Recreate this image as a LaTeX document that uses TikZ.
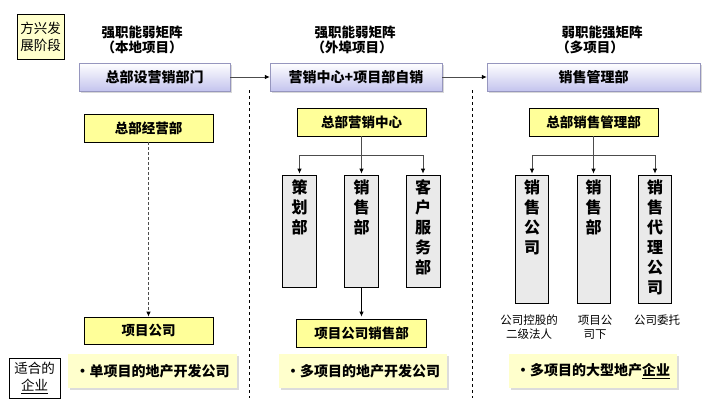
\documentclass[tikz,border=0pt]{standalone}
\usepackage{fontspec}
\setmainfont{Noto Sans CJK SC}
\usetikzlibrary{arrows.meta,shadows}
\definecolor{ylw}{RGB}{255,255,153}
\definecolor{pale}{RGB}{255,255,204}
\definecolor{lav}{RGB}{196,196,238}
\definecolor{gbox}{RGB}{234,234,234}
\tikzset{
  bluebox/.style={draw={rgb,255:red,150;green,150;blue,190}, top color=white, bottom color=lav,
    drop shadow={shadow xshift=2pt,shadow yshift=-2pt,fill=gray!60},
    minimum height=28pt, inner sep=0pt, font=\bfseries\fontsize{14}{16}\selectfont},
  ybox/.style={draw=black, line width=0.8pt, fill=ylw, minimum height=28pt, minimum width=129pt,
    inner sep=0pt, font=\bfseries\fontsize{13.5}{16}\selectfont},
  gboxst/.style={draw=black, line width=0.7pt, fill=gbox, inner sep=0pt},
  vtext/.style={font=\bfseries\fontsize{16}{20}\selectfont, align=center, inner sep=0pt},
  notebox/.style={fill=pale, drop shadow={shadow xshift=2pt,shadow yshift=-2pt,fill=gray!55},
    minimum width=168pt, minimum height=34pt, inner sep=0pt, font=\bfseries\fontsize{14}{16}\selectfont},
  sidebox/.style={draw=black, line width=0.7pt, inner sep=0pt, align=center,
    font=\fontsize{13.5}{17}\selectfont},
  head/.style={font=\bfseries\fontsize{13.5}{16}\selectfont, inner sep=0pt},
  small/.style={font=\fontsize{11.5}{13.5}\selectfont, align=center, inner sep=0pt},
  arr/.style={draw=gray!60!black, line width=0.8pt, -{Latex[length=5pt,width=4.5pt,color=black]}},
  darr/.style={arr, dash pattern=on 3pt off 2pt},
  branch/.style={draw=gray!60!black, line width=0.8pt},
  sep/.style={draw=black, line width=0.7pt, dash pattern=on 3pt off 3pt}
}
\begin{document}
\begin{tikzpicture}[x=1pt,y=-1pt]
\useasboundingbox (0,0) rectangle (707,405);
% side labels
\node[sidebox, fill=pale, minimum width=47pt, minimum height=45pt] (stage) at (40.5,36.5) {方兴发\\展阶段};
\node[sidebox, fill=white, minimum width=51pt, minimum height=40pt] (fit) at (34.5,378) {适合的\\\underline{企业}};
% headings
\node[head] (h1a) at (142,32) {强职能弱矩阵};
\node[head] (h1b) at (142,47) {（本地项目）};
\node[head] (h2a) at (355,32) {强职能弱矩阵};
\node[head] (h2b) at (352,47) {（外埠项目）};
\node[head] (h3a) at (602,32) {弱职能强矩阵};
\node[head] (h3b) at (590,47) {（多项目）};
% top blue boxes
\node[bluebox, minimum width=151pt] (b1) at (154.5,77) {总部设营销部门};
\node[bluebox, minimum width=172pt] (b2) at (356,77) {营销中心+项目部自销};
\node[bluebox, minimum width=213pt] (b3) at (593.5,77) {销售管理部};
\draw[arr] (b1) -- (b2);
\draw[arr] (b2) -- (b3);
% separators
\coordinate (s1t) at (249,90); \coordinate (s1b) at (249,398);
\coordinate (s2t) at (472,90); \coordinate (s2b) at (472,398);
\draw[sep] (s1t) -- (s1b);
\draw[sep] (s2t) -- (s2b);
% column 1
\node[ybox] (y1) at (148.5,128) {总部经营部};
\node[ybox, minimum height=27pt] (p1) at (148.5,330.5) {项目公司};
\draw[darr] (y1) -- (p1);
% column 2
\node[ybox] (y2) at (361.5,122) {总部营销中心};
\node[gboxst, minimum width=34pt, minimum height=112pt] (g21) at (299.5,231) {};
\node[gboxst, minimum width=34pt, minimum height=112pt] (g22) at (361.5,231) {};
\node[gboxst, minimum width=34pt, minimum height=112pt] (g23) at (423,231) {};
\node[vtext, anchor=north] (t21) at ([yshift=-5pt]g21.north) {策\\划\\部};
\node[vtext, anchor=north] (t22) at ([yshift=-5pt]g22.north) {销\\售\\部};
\node[vtext, anchor=north] (t23) at ([yshift=-5pt]g23.north) {客\\户\\服\\务\\部};
\coordinate (j2) at (361.5,155);
\draw[branch] (y2.south) -- (j2);
\draw[arr, shorten >=1pt] (j2) -| (g21.north);
\draw[arr, shorten >=1pt] (j2) -- (g22.north);
\draw[arr, shorten >=1pt] (j2) -| (g23.north);
\node[ybox, minimum width=130pt] (p2) at (361.5,333) {项目公司销售部};
\draw[arr, draw=black, shorten >=2pt] (g22.south) -- (p2.north);
% column 3
\node[ybox] (y3) at (593.5,122) {总部销售管理部};
\node[gboxst, minimum width=33pt, minimum height=128pt] (g31) at (532,239) {};
\node[gboxst, minimum width=33pt, minimum height=128pt] (g32) at (593.5,239) {};
\node[gboxst, minimum width=33pt, minimum height=128pt] (g33) at (655,239) {};
\node[vtext, anchor=north] (t31) at ([yshift=-5pt]g31.north) {销\\售\\公\\司};
\node[vtext, anchor=north] (t32) at ([yshift=-5pt]g32.north) {销\\售\\部};
\node[vtext, anchor=north] (t33) at ([yshift=-5pt]g33.north) {销\\售\\代\\理\\公\\司};
\coordinate (j3) at (593.5,155);
\draw[branch] (y3.south) -- (j3);
\draw[arr, shorten >=1pt] (j3) -| (g31.north);
\draw[arr, shorten >=1pt] (j3) -- (g32.north);
\draw[arr, shorten >=1pt] (j3) -| (g33.north);
\node[small, anchor=north] (l31) at (529,315) {公司控股的\\二级法人};
\node[small, anchor=north] (l32) at (595,315) {项目公\\司下};
\node[small, anchor=north] (l33) at (657,315) {公司委托};
% bottom notes
\node[notebox, minimum width=169pt] (n1) at (152.5,371) {·单项目的地产开发公司};
\node[notebox] (n2) at (363,371) {·多项目的地产开发公司};
\node[notebox] (n3) at (593,371) {·多项目的大型地产\underline{企业}};
\end{tikzpicture}
\end{document}
